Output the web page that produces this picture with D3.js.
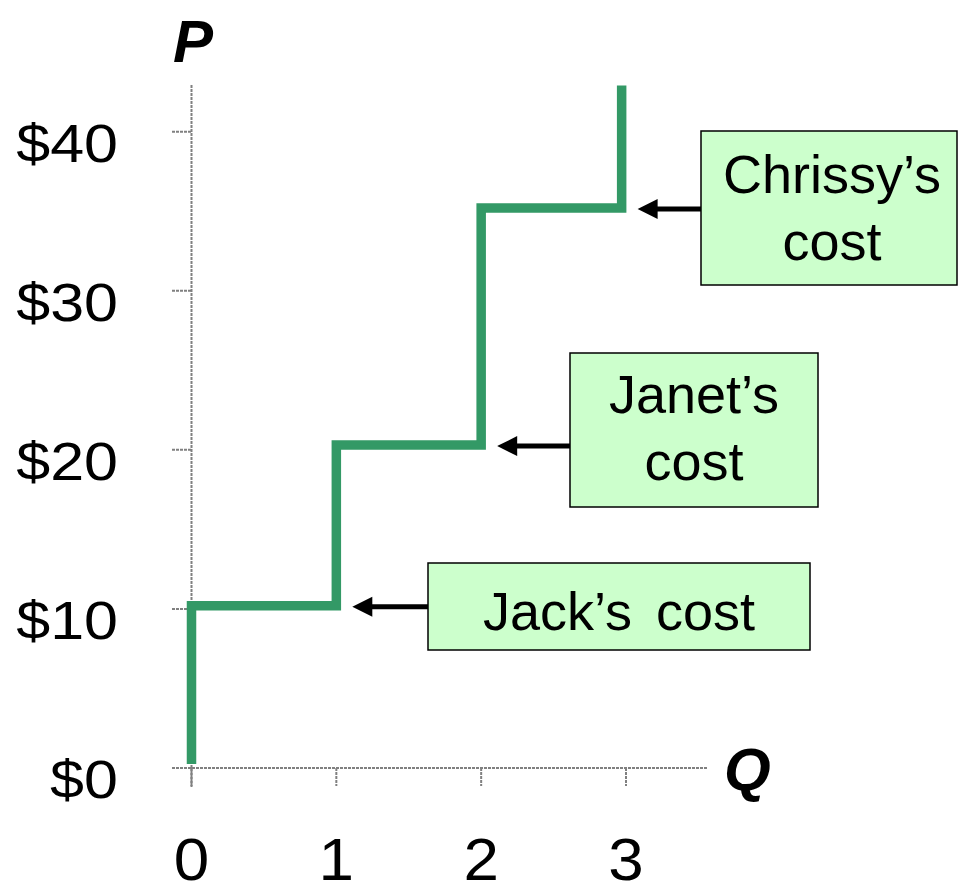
<!DOCTYPE html>
<html>
<head>
<meta charset="utf-8">
<script src="https://cdn.jsdelivr.net/npm/d3@7"></script>
<style>
  html, body { margin: 0; padding: 0; background: #fff; }
  svg { display: block; }
  text { font-family: Arial, "Liberation Sans", Helvetica, sans-serif; fill: #000; }
</style>
</head>
<body>
<svg id="chart" width="958" height="893"></svg>
<script>
// ---- data ----
const qTicks = [0, 1, 2, 3];
const qTickLabels = ["0", "1", "2", "3"];
const pTicks = [0, 10, 20, 30, 40];
const pTickLabels = ["$0", "$10", "$20", "$30", "$40"];
// step supply curve: each seller's cost level and where the step begins
const sellers = ["Jack", "Janet", "Chrissy"];
const sellerQ = [0, 1, 2];          // quantity at which each seller's step starts
const sellerCost = [10.2, 20.3, 35.2];
const curveStartP = 0.25;
const curveEndQ = 2.97;
const curveEndP = 42.9;
const labelLines = [["Jack\u2019s cost"], ["Janet\u2019s", "cost"], ["Chrissy\u2019s", "cost"]];

// ---- scales ----
const svg = d3.select("#chart");
const x = d3.scaleLinear().domain([0, 3]).range([191.5, 626]);
const y = d3.scaleLinear().domain([0, 40]).range([768, 131.7]);

// ---- axes ----
const axisColor = "#808080";
const dash = "3,1";
const ax = svg.append("g");
ax.append("line").attr("x1", x(0)).attr("x2", x(0)).attr("y1", 85).attr("y2", 787)
  .attr("stroke", axisColor).attr("stroke-width", 2).attr("stroke-dasharray", dash);
ax.append("line").attr("x1", 172).attr("x2", 707).attr("y1", y(0)).attr("y2", y(0))
  .attr("stroke", axisColor).attr("stroke-width", 2).attr("stroke-dasharray", dash);
ax.selectAll(".yt").data(pTicks).join("line")
  .attr("x1", 172).attr("x2", x(0)).attr("y1", d => y(d)).attr("y2", d => y(d))
  .attr("stroke", axisColor).attr("stroke-width", 2).attr("stroke-dasharray", dash);
ax.selectAll(".xt").data(qTicks).join("line")
  .attr("x1", d => x(d)).attr("x2", d => x(d)).attr("y1", y(0)).attr("y2", 786)
  .attr("stroke", axisColor).attr("stroke-width", 2).attr("stroke-dasharray", dash);

// y tick labels
svg.append("g").selectAll("text").data(pTicks).join("text")
  .attr("transform", d => `translate(118, ${y(d) + 30}) scale(1.13, 1)`)
  .attr("text-anchor", "end")
  .style("font-size", "54px")
  .text((d, i) => pTickLabels[i]);

// x tick labels
svg.append("g").selectAll("text").data(qTicks).join("text")
  .attr("transform", d => `translate(${x(d)}, 880) scale(1.08, 1)`)
  .attr("text-anchor", "middle")
  .style("font-size", "59px")
  .text((d, i) => qTickLabels[i]);

// axis titles
svg.append("text").attr("x", 173).attr("y", 62)
  .style("font-size", "60px").style("font-weight", "bold").style("font-style", "italic")
  .text("P");
svg.append("text").attr("x", 724).attr("y", 790)
  .style("font-size", "60px").style("font-weight", "bold").style("font-style", "italic")
  .text("Q");

// ---- step curve ----
const pts = [[sellerQ[0], curveStartP]];
sellerCost.forEach((c, i) => {
  const qNext = i + 1 < sellerQ.length ? sellerQ[i + 1] : curveEndQ;
  pts.push([sellerQ[i], c]);
  pts.push([qNext, c]);
});
pts.push([curveEndQ, curveEndP]);
const line = d3.line().x(d => x(d[0])).y(d => y(d[1]));
svg.append("path").datum(pts)
  .attr("d", line)
  .attr("fill", "none")
  .attr("stroke", "#339966")
  .attr("stroke-width", 9.5)
  .attr("stroke-linejoin", "miter")
  .attr("stroke-linecap", "butt");

// ---- annotation boxes + arrows ----
const boxes = [
  { x0: 428, y0: 563, w: 382, h: 87, tx: 619, base: [630], ws: 9 },
  { x0: 570, y0: 353, w: 248, h: 154, tx: 694, base: [413, 480], ws: 0 },
  { x0: 701, y0: 131, w: 256, h: 154, tx: 832, base: [193, 260], ws: 0 }
];
const stepEndQ = sellerQ.slice(1).concat([curveEndQ]);
boxes.forEach((b, i) => {
  const ay = y(sellerCost[i]) + 1;
  const tip = x(stepEndQ[i]) + 16;
  const g = svg.append("g");
  g.append("line").attr("x1", b.x0).attr("x2", tip + 16).attr("y1", ay).attr("y2", ay)
    .attr("stroke", "#000").attr("stroke-width", 5);
  g.append("path")
    .attr("d", `M${tip},${ay} L${tip + 20},${ay - 10} L${tip + 20},${ay + 10} Z`)
    .attr("fill", "#000");
  g.append("rect").attr("x", b.x0).attr("y", b.y0).attr("width", b.w).attr("height", b.h)
    .attr("fill", "#ccffcc").attr("stroke", "#000").attr("stroke-width", 1.5);
  labelLines[i].forEach((t, j) => {
    g.append("text").attr("x", b.tx).attr("y", b.base[j])
      .attr("text-anchor", "middle").style("font-size", "54px")
      .style("word-spacing", b.ws + "px").text(t);
  });
});
</script>
</body>
</html>
